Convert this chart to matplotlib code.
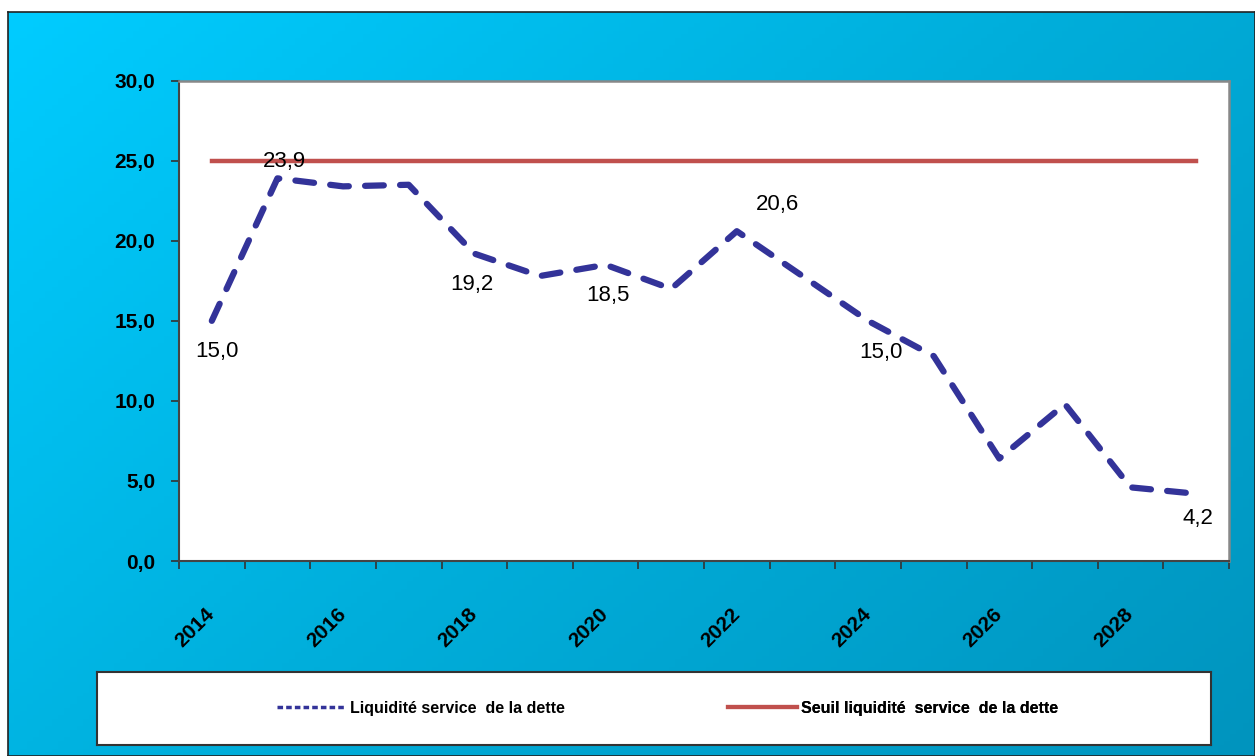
import numpy as np
import matplotlib.pyplot as plt
from matplotlib.colors import LinearSegmentedColormap
from matplotlib.lines import Line2D

years = list(range(2014, 2030))
liquidite = [15.0, 23.9, 23.4, 23.5, 19.2, 17.8, 18.5, 17.0, 20.6, 17.8,
             15.0, 12.8, 6.4, 9.8, 4.6, 4.2]
seuil = [25.0] * len(years)
label_years = [2014, 2015, 2018, 2020, 2022, 2024, 2029]
label_offsets = [(4, -22), (5, 12), (-2, -22), (2, -22), (29, 19), (9, -23), (1, -18)]

FAM = ['Liberation Sans', 'DejaVu Sans']
plt.rcParams['font.family'] = FAM

W, H = 1255, 756
fig = plt.figure(figsize=(W / 100, H / 100), dpi=100)
fig.patch.set_facecolor('white')

# gradient background with thin dark frame
bg = fig.add_axes([8 / W, 0, 1 - 8 / W, 1 - 12 / H])
cmap = LinearSegmentedColormap.from_list('bg', ['#00CCFF', '#00AEDB', '#0094BE'])
gx, gy = np.meshgrid(np.linspace(0, 1, 200), np.linspace(0, 1, 200))
bg.imshow(0.6 * gx + 0.4 * gy, cmap=cmap, aspect='auto', extent=[0, 1, 1, 0])
bg.set_xticks([])
bg.set_yticks([])
for s in bg.spines.values():
    s.set_color('#222222')
    s.set_linewidth(1.2)

ax = fig.add_axes([179 / W, 1 - 561 / H, (1229 - 179) / W, (561 - 80.7) / H])
ax.set_facecolor('white')
x = np.arange(len(years))
ax.plot(x, liquidite, color='#333399', lw=4.5, ls=(0, (3, 2.6)),
        solid_capstyle='round', dash_capstyle='round')
ax.plot(x, seuil, color='#C0504D', lw=3.2)

for yr, (dx, dy) in zip(label_years, label_offsets):
    i = years.index(yr)
    v = liquidite[i]
    ax.annotate(f'{v:.1f}'.replace('.', ','), (x[i], v), xytext=(dx, dy),
                textcoords='offset points', ha='center', va='center', fontsize=16)

ax.set_xlim(-0.5, len(years) - 0.5)
ax.set_ylim(0, 30)
ax.set_yticks(np.arange(0, 31, 5))
ax.set_yticklabels([f'{v:.1f}'.replace('.', ',') for v in np.arange(0, 31, 5)],
                   fontsize=15, fontweight='bold')
ax.tick_params(axis='y', direction='out', length=6, width=1.2, pad=11, color='#333333')

ax.set_xticks(x[::2])
ax.set_xticklabels([str(y) for y in years[::2]], fontsize=15, fontweight='bold')
ax.set_xticks(np.arange(-0.5, len(years)), minor=True)
ax.tick_params(axis='x', which='major', length=0, pad=36)
ax.tick_params(axis='x', which='minor', direction='out', length=6, width=1.2, color='#333333')
for lab in ax.get_xticklabels():
    lab.set_rotation(45)
    lab.set_ha('right')
    lab.set_va('center')
    lab.set_rotation_mode('anchor')

for side in ['top', 'right']:
    ax.spines[side].set_color('#888888')
    ax.spines[side].set_linewidth(1.8)
for side in ['left', 'bottom']:
    ax.spines[side].set_color('#444444')
    ax.spines[side].set_linewidth(1.5)

# legend box
lx0, lx1 = 97, 1211
lax = fig.add_axes([lx0 / W, 1 - 745 / H, (lx1 - lx0) / W, 73 / H])
lax.set_xticks([])
lax.set_yticks([])
lax.set_facecolor('white')
for s in lax.spines.values():
    s.set_color('#333333')
    s.set_linewidth(1.5)
handles = [Line2D([], [], color='#333399', lw=2.5, ls=(0, (1.6, 0.9))),
           Line2D([], [], color='#C0504D', lw=3)]
labels = ['Liquidité service  de la dette', 'Seuil liquidité  service  de la dette']
for h, l, xs in zip(handles, labels, [277, 728]):
    leg = lax.legend([h], [l], loc='center left',
                     bbox_to_anchor=((xs - lx0) / (lx1 - lx0), 0.5),
                     borderaxespad=0, borderpad=0, frameon=False,
                     handlelength=4.3, handletextpad=0.3,
                     prop={'size': 11.5, 'weight': 'bold', 'family': FAM})
    lax.add_artist(leg)

fig.savefig('out.png', dpi=100)
